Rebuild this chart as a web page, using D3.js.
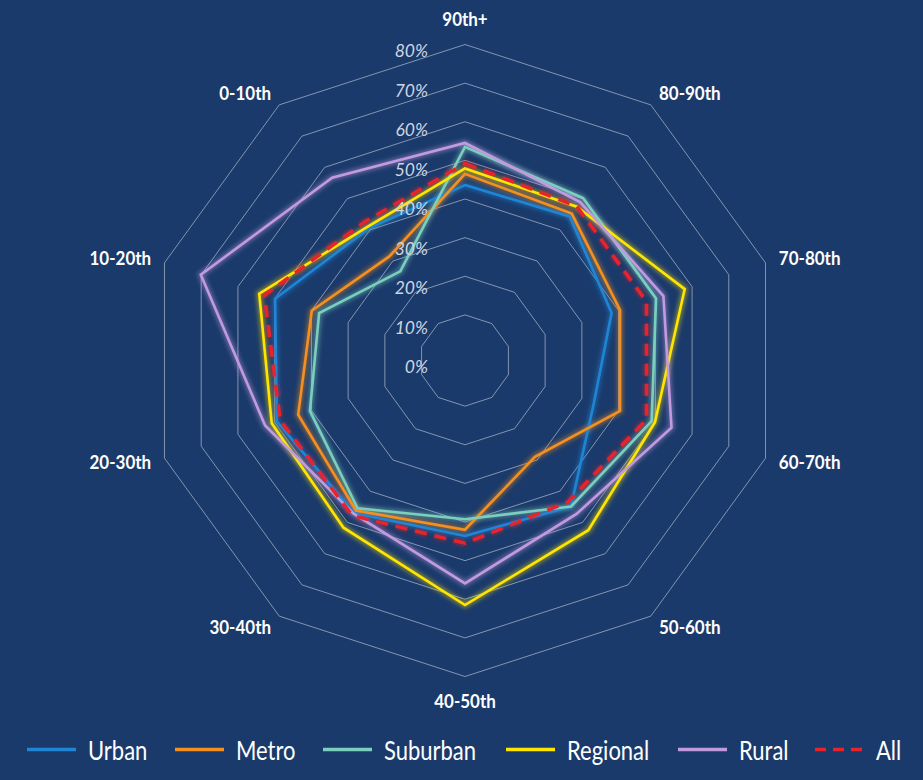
<!DOCTYPE html>
<html>
<head>
<meta charset="utf-8">
<script src="https://cdn.jsdelivr.net/npm/d3@7"></script>
<style>
  html, body { margin: 0; padding: 0; background: #1a3a6b; }
  svg { display: block; }
</style>
</head>
<body>
<svg id="chart" width="923" height="780"></svg>
<script>
// ---- data ----
const categories = ["90th+", "80-90th", "70-80th", "60-70th", "50-60th", "40-50th", "30-40th", "20-30th", "10-20th", "0-10th"];
const ringTicks = [0, 0.1, 0.2, 0.3, 0.4, 0.5, 0.6, 0.7, 0.8];
const seriesNames = ["Urban", "Metro", "Suburban", "Regional", "Rural", "All"];
const urban    = [0.436, 0.443, 0.381, 0.333, 0.449, 0.436, 0.470, 0.494, 0.499, 0.405];
const metro    = [0.465, 0.452, 0.404, 0.404, 0.290, 0.420, 0.462, 0.436, 0.399, 0.315];
const suburban = [0.535, 0.502, 0.502, 0.490, 0.449, 0.393, 0.455, 0.404, 0.379, 0.267];
const regional = [0.479, 0.474, 0.580, 0.499, 0.525, 0.615, 0.517, 0.508, 0.542, 0.410];
const rural    = [0.545, 0.489, 0.522, 0.544, 0.473, 0.559, 0.472, 0.526, 0.701, 0.567];
const all      = [0.492, 0.475, 0.476, 0.476, 0.435, 0.455, 0.478, 0.485, 0.528, 0.425];

// ---- styles ----
const seriesValues = [urban, metro, suburban, regional, rural, all];
const colors = ["#1f85d4", "#f3901f", "#7ccfbd", "#ffe500", "#c29ade", "#e8232b"];

const svg = d3.select("#chart");
const cx = 465, cy = 360.5;
const n = categories.length;

const r = d3.scaleLinear().domain([0, 0.8]).range([7, 316]);
const angle = d3.scaleLinear().domain([0, n]).range([0, 2 * Math.PI]);
const labelY = d3.scaleLinear().domain([0, 0.8]).range([373, 57]);

const defs = svg.append("defs");
const f = defs.append("filter").attr("id", "glow")
  .attr("x", "-20%").attr("y", "-20%").attr("width", "140%").attr("height", "140%");
f.append("feGaussianBlur").attr("stdDeviation", 2.2);

const g = svg.append("g").attr("transform", `translate(${cx},${cy})`);

// grid decagons (10% .. 80%)
const radial = d3.lineRadial()
  .angle((d, i) => angle(i))
  .curve(d3.curveLinearClosed);

g.append("g").selectAll("path")
  .data(ringTicks.filter(t => t > 0))
  .join("path")
  .attr("d", t => radial.radius(r(t))(categories.map(() => t)))
  .attr("fill", "none")
  .attr("stroke", "#aeb8cc")
  .attr("stroke-opacity", 0.8)
  .attr("stroke-width", 0.9);

// ring labels
svg.append("g").selectAll("text")
  .data(ringTicks)
  .join("text")
  .attr("x", 428)
  .attr("y", t => labelY(t))
  .attr("text-anchor", "end")
  .attr("font-family", "Lato, 'Open Sans', sans-serif")
  .attr("font-style", "italic")
  .attr("font-size", 17.5)
  .attr("fill", "#d0d5e1")
  .text(t => d3.format(".0%")(t));

// series
const lineGen = d3.lineRadial()
  .angle((d, i) => angle(i))
  .radius(d => r(d))
  .curve(d3.curveLinearClosed);

const sg = g.append("g");
seriesValues.forEach((vals, k) => {
  sg.append("path")
    .attr("d", lineGen(vals))
    .attr("fill", "none")
    .attr("stroke", colors[k])
    .attr("stroke-width", 6)
    .attr("stroke-opacity", 0.45)
    .attr("stroke-dasharray", k === 5 ? "12 8" : null)
    .attr("filter", "url(#glow)");
});
seriesValues.forEach((vals, k) => {
  sg.append("path")
    .attr("d", lineGen(vals))
    .attr("fill", "none")
    .attr("stroke", colors[k])
    .attr("stroke-width", k === 5 ? 3.5 : 2.6)
    .attr("stroke-linejoin", "miter")
    .attr("stroke-dasharray", k === 5 ? "12 8" : null);
});

// category labels
const lab = svg.append("g");
categories.forEach((c, i) => {
  const a = angle(i);
  const s = Math.sin(a), co = Math.cos(a);
  let anchor = "middle", rr = 341;
  if (s > 0.1) { anchor = "start"; rr = 330; }
  else if (s < -0.1) { anchor = "end"; rr = 330; }
  const x = cx + rr * s, y = cy - rr * co;
  lab.append("text")
    .attr("transform", `translate(${x},${y}) scale(1,1.12)`)
    .attr("dy", "0.36em")
    .attr("text-anchor", anchor)
    .attr("font-family", "Lato, 'Open Sans', sans-serif")
    .attr("font-weight", "bold")
    .attr("font-size", 17)
    .attr("fill", "#ffffff")
    .text(c);
});

// legend
const legX = [27, 175, 323, 506, 678, 815];
const leg = svg.append("g");
seriesNames.forEach((name, k) => {
  const x0 = legX[k];
  leg.append("line")
    .attr("x1", x0).attr("x2", x0 + 49)
    .attr("y1", 749.5).attr("y2", 749.5)
    .attr("stroke", colors[k])
    .attr("stroke-width", 3.5)
    .attr("stroke-dasharray", k === 5 ? "11 7" : null);
  leg.append("text")
    .attr("transform", `translate(${x0 + 61},${760}) scale(1,1.25)`)
    .attr("font-family", "Lato, 'Open Sans', sans-serif")
    .attr("font-size", 22)
    .attr("fill", "#ffffff")
    .text(name);
});
</script>
</body>
</html>
